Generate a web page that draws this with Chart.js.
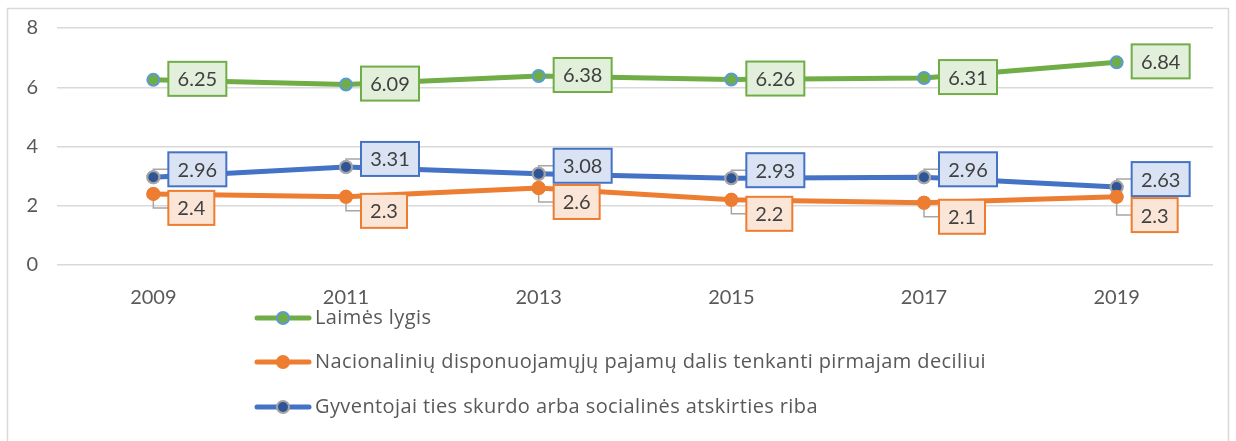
<!DOCTYPE html>
<html>
<head>
<meta charset="utf-8">
<script src="https://cdn.jsdelivr.net/npm/chart.js@4.4.1/dist/chart.umd.min.js"></script>
<style>
  html, body { margin: 0; padding: 0; background: #ffffff; }
  #wrap { width: 1236px; height: 441px; position: relative; }
</style>
</head>
<body>
<div id="wrap"><canvas id="chart" width="1236" height="441"></canvas></div>
<script>
const years = ['2009', '2011', '2013', '2015', '2017', '2019'];
const happiness = [6.25, 6.09, 6.38, 6.26, 6.31, 6.84];
const incomeShare = [2.4, 2.3, 2.6, 2.2, 2.1, 2.3];
const povertyRisk = [2.96, 3.31, 3.08, 2.93, 2.96, 2.63];
const yTicks = [0, 2, 4, 6, 8];

const FONT = 'Lato, "Open Sans", sans-serif';
const LEGEND_FONT = '"Open Sans", Lato, sans-serif';
const TEXT = '#404040';

// label style per dataset: fill, border, where the box sits relative to the point
const labelStyles = [
  { fill: '#E2EFDA', border: '#70AD47', dy: -1, leader: false },
  { fill: '#FBE5D6', border: '#ED7D31', dy: 14, leader: true },
  { fill: '#DAE3F3', border: '#4472C4', dy: -8, leader: true }
];

const framePlugin = {
  id: 'frame',
  beforeDraw(chart) {
    const ctx = chart.ctx;
    ctx.save();
    ctx.fillStyle = '#ffffff';
    ctx.fillRect(0, 0, chart.width, chart.height);
    ctx.strokeStyle = '#D9D9D9';
    ctx.lineWidth = 1.5;
    ctx.beginPath();
    ctx.moveTo(7.5, chart.height + 2);
    ctx.lineTo(7.5, 8.5);
    ctx.lineTo(1228.5, 8.5);
    ctx.lineTo(1228.5, chart.height + 2);
    ctx.stroke();
    ctx.restore();
  }
};

const boxLabelsPlugin = {
  id: 'boxLabels',
  afterDatasetsDraw(chart) {
    const ctx = chart.ctx;
    ctx.save();
    ctx.font = '20px ' + FONT;
    ctx.textBaseline = 'middle';
    ctx.textAlign = 'center';
    const h = 34;
    const blueBottoms = [];
    // draw blue first so orange can avoid it
    [0, 2, 1].forEach(di => {
      const meta = chart.getDatasetMeta(di);
      const st = labelStyles[di];
      meta.data.forEach((pt, i) => {
        const val = chart.data.datasets[di].data[i];
        const txt = String(val);
        const w = Math.round(ctx.measureText(txt).width) + 18;
        const left = pt.x + 15;
        let top = pt.y + st.dy - h / 2;
        if (di === 2) blueBottoms[i] = top + h;
        if (di === 1 && blueBottoms[i] !== undefined) top = Math.max(top, blueBottoms[i] + 2);
        const cy = top + h / 2;
        if (st.leader) {
          ctx.strokeStyle = '#A6A6A6';
          ctx.lineWidth = 1.5;
          ctx.beginPath();
          ctx.moveTo(pt.x, pt.y);
          ctx.lineTo(pt.x, cy);
          ctx.lineTo(left, cy);
          ctx.stroke();
          // redraw marker over leader
          pt.draw(ctx);
        }
        ctx.fillStyle = st.fill;
        ctx.fillRect(left, top, w, h);
        ctx.strokeStyle = st.border;
        ctx.lineWidth = 2;
        ctx.strokeRect(left, top, w, h);
        ctx.fillStyle = TEXT;
        ctx.fillText(txt, left + w / 2, cy + 1);
      });
    });
    ctx.restore();
  }
};

const listLegendPlugin = {
  id: 'listLegend',
  afterDraw(chart) {
    const ctx = chart.ctx;
    ctx.save();
    const x0 = 255, rows = [318, 362, 407];
    chart.data.datasets.forEach((ds, i) => {
      const y = rows[i];
      ctx.strokeStyle = ds.borderColor;
      ctx.lineWidth = 5;
      ctx.lineCap = 'round';
      ctx.beginPath();
      ctx.moveTo(x0 + 2, y);
      ctx.lineTo(x0 + 54, y);
      ctx.stroke();
      ctx.fillStyle = ds.pointBackgroundColor;
      ctx.strokeStyle = ds.pointBorderColor;
      ctx.lineWidth = 2;
      ctx.beginPath();
      ctx.arc(x0 + 28, y, 6, 0, Math.PI * 2);
      ctx.fill();
      ctx.stroke();
      ctx.fillStyle = '#595959';
      ctx.font = '20px ' + LEGEND_FONT;
      ctx.letterSpacing = '0.4px';
      ctx.textBaseline = 'middle';
      ctx.textAlign = 'left';
      ctx.fillText(ds.label, x0 + 60, y);
    });
    ctx.restore();
  }
};

const chart = new Chart(document.getElementById('chart'), {
  type: 'line',
  data: {
    labels: years,
    datasets: [
      {
        label: 'Laimės lygis',
        data: happiness,
        borderColor: '#70AD47',
        borderWidth: 5,
        pointBackgroundColor: '#70AD47',
        pointBorderColor: '#5B9BD5',
        pointBorderWidth: 2,
        pointRadius: 6
      },
      {
        label: 'Nacionalinių disponuojamųjų pajamų dalis tenkanti pirmajam deciliui',
        data: incomeShare,
        borderColor: '#ED7D31',
        borderWidth: 5,
        pointBackgroundColor: '#ED7D31',
        pointBorderColor: '#ED7D31',
        pointBorderWidth: 2,
        pointRadius: 6
      },
      {
        label: 'Gyventojai ties skurdo arba socialinės atskirties riba',
        data: povertyRisk,
        borderColor: '#4472C4',
        borderWidth: 5,
        pointBackgroundColor: '#2F5597',
        pointBorderColor: '#A5A5A5',
        pointBorderWidth: 2,
        pointRadius: 6
      }
    ]
  },
  options: {
    responsive: false,
    animation: false,
    devicePixelRatio: 1,
    layout: { padding: { left: 8, right: 23, top: 28, bottom: 0 } },
    plugins: {
      legend: { display: false },
      tooltip: { enabled: false }
    },
    scales: {
      x: {
        offset: true,
        grid: { display: false, drawTicks: false },
        border: { display: false },
        ticks: { color: '#595959', font: { family: FONT, size: 20 }, padding: 21, maxRotation: 0 },
        afterFit(scale) { scale.height = 176; }
      },
      y: {
        min: 0,
        max: 8,
        afterBuildTicks(scale) { scale.ticks = yTicks.map(v => ({ value: v })); },
        grid: { color: '#D9D9D9', lineWidth: 1.5, drawTicks: false },
        border: { display: false },
        ticks: { color: '#595959', font: { family: FONT, size: 20 }, padding: 19 },
        afterFit(scale) {
          scale.width = 49;
          scale.paddingTop = 0;
          scale.paddingBottom = 0;
        }
      }
    }
  },
  plugins: [framePlugin, boxLabelsPlugin, listLegendPlugin]
});
</script>
</body>
</html>
